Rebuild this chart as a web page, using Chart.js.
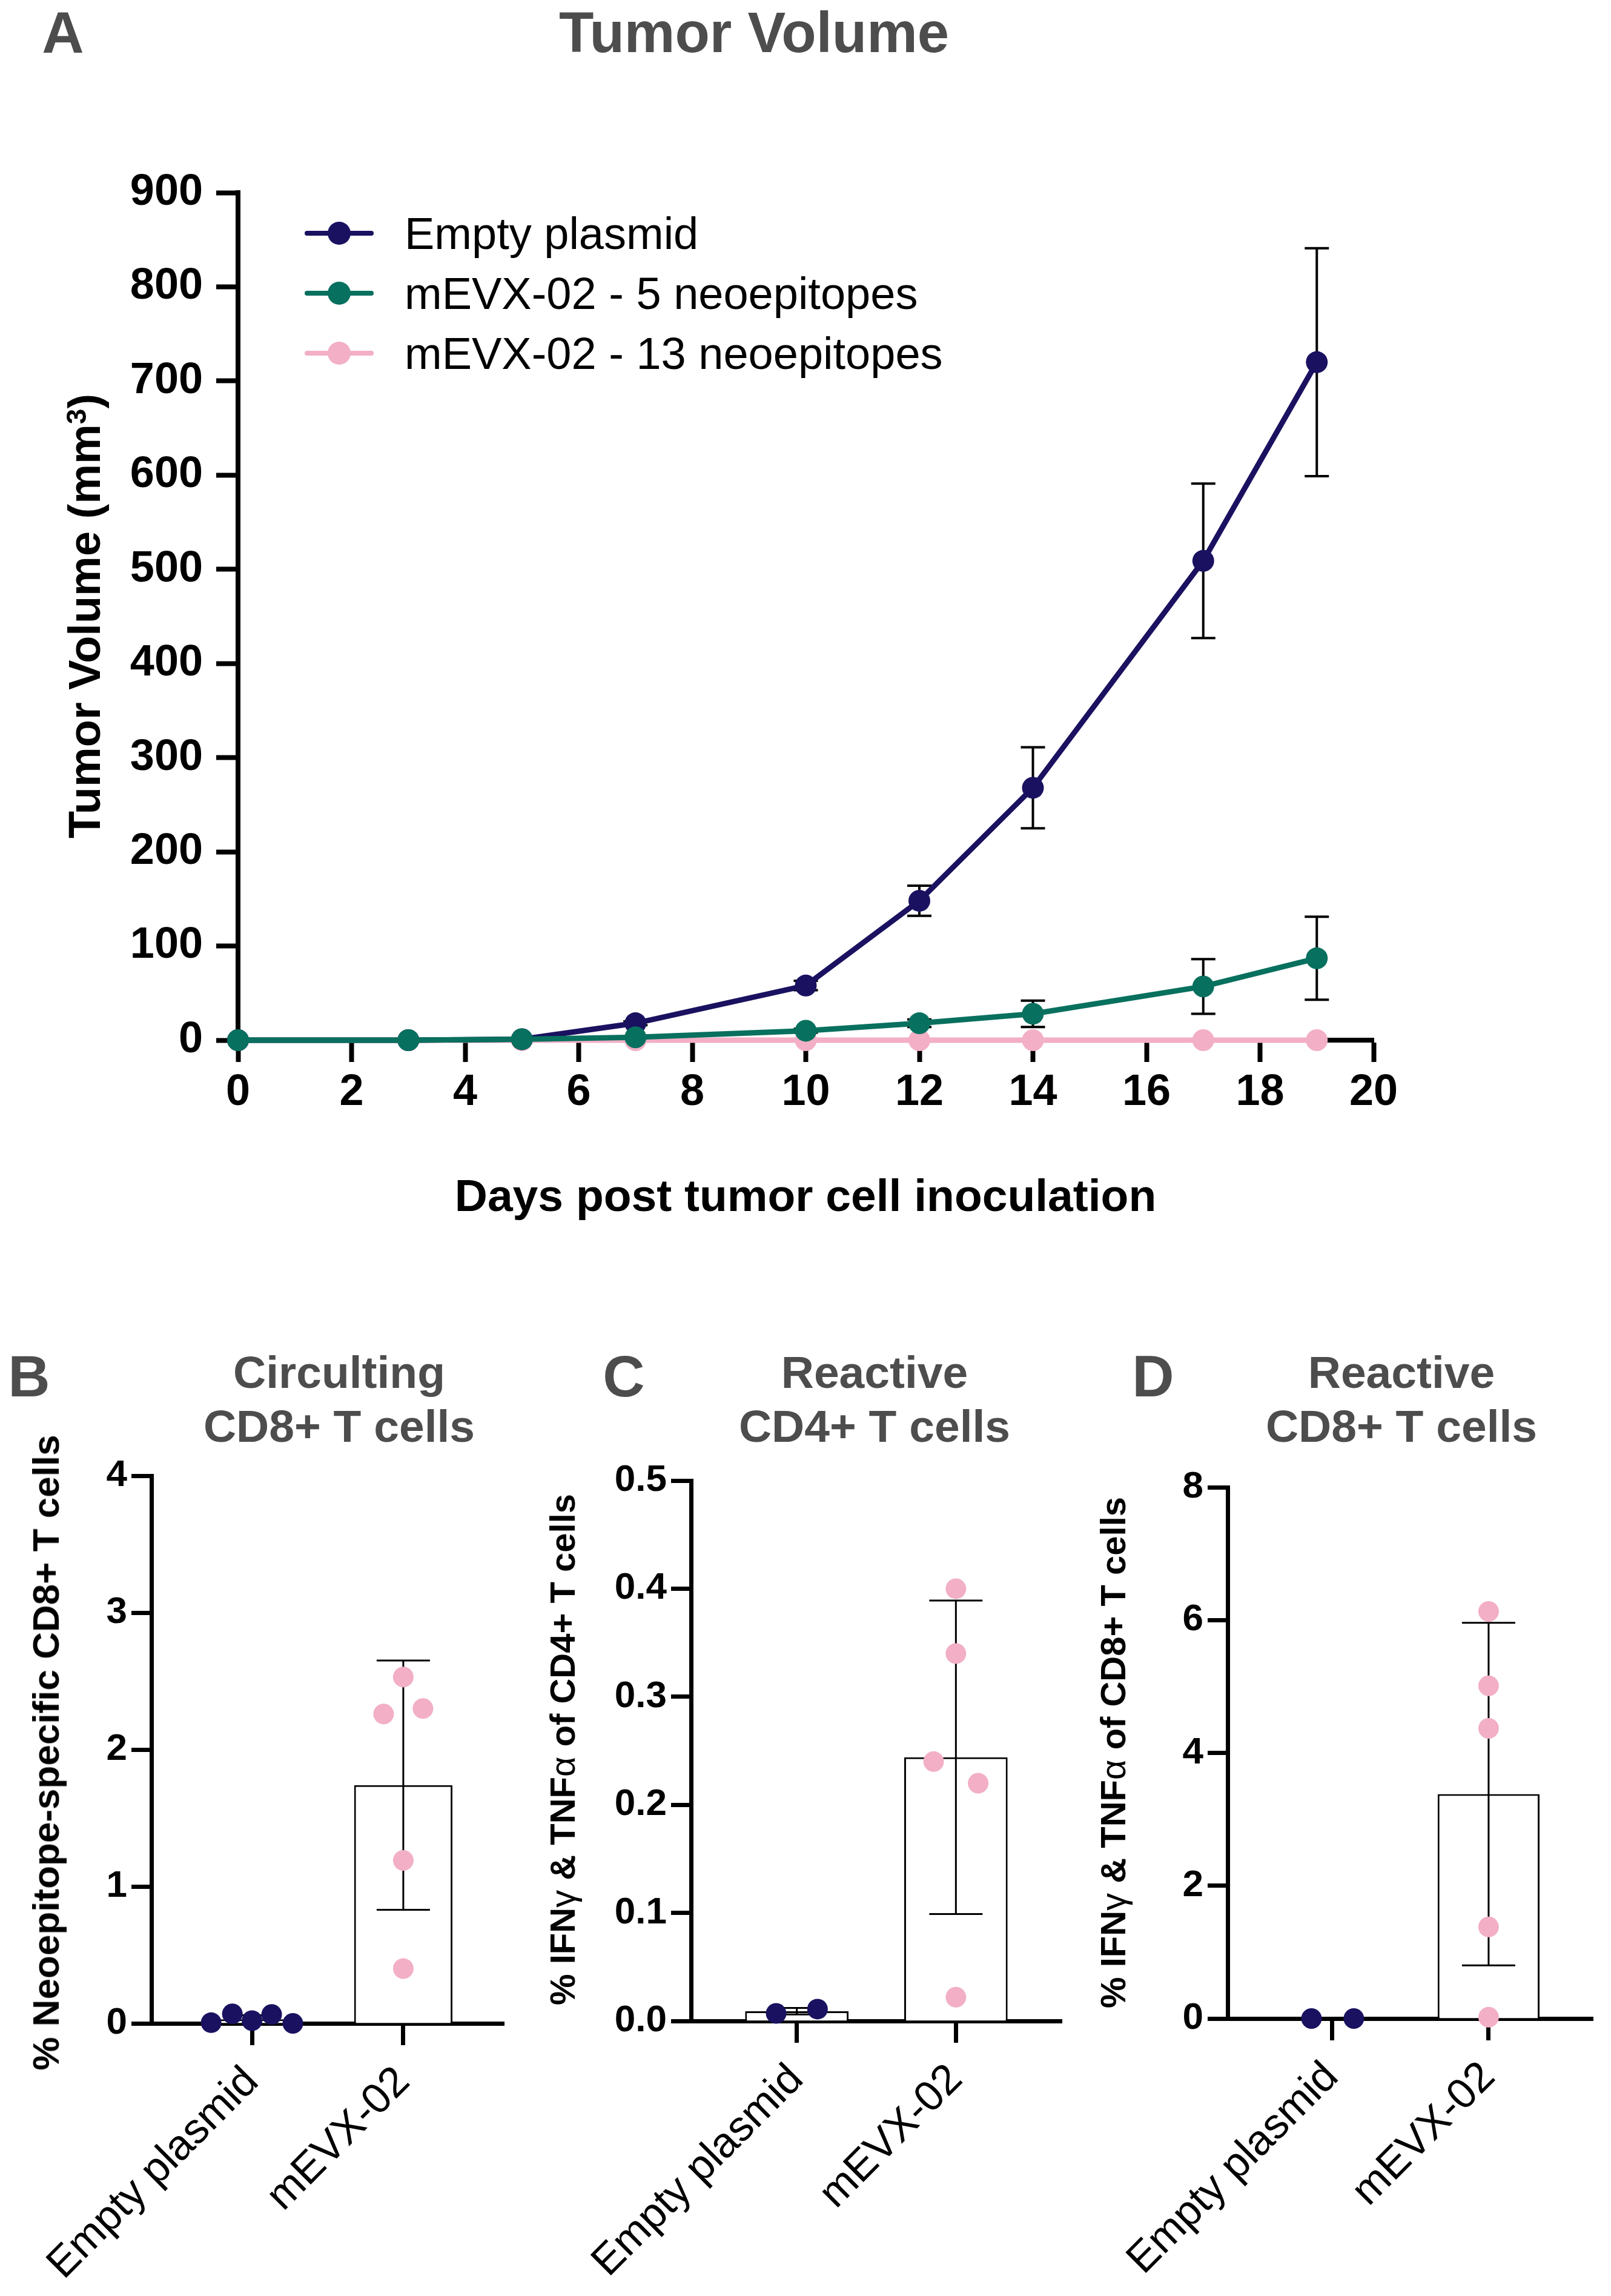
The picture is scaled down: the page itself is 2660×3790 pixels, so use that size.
<!DOCTYPE html>
<html>
<head>
<meta charset="utf-8">
<title>Tumor Volume</title>
<script src="https://cdn.jsdelivr.net/npm/chart.js@4.4.1/dist/chart.umd.min.js"></script>
<style>
  body { margin: 0; background: #fff; }
  #page { position: relative; width: 2660px; height: 3790px; background: #fff; overflow: hidden;
          font-family: 'Liberation Sans', Arial, Helvetica, sans-serif; }
  #page canvas { position: absolute; }
  .txt { position: absolute; white-space: nowrap; line-height: 1; font-weight: bold; transform: translateX(-50%); }
  .letter { font-size: 96px; color: #4d4d4d; }
  .title { font-size: 75px; color: #4d4d4d; line-height: 89px; text-align: center; }
  .ytitle { position: absolute; white-space: nowrap; line-height: 1; font-weight: bold; color: #000;
            transform: translate(-50%, -50%) rotate(-90deg); }
  .greek { font-weight: normal; }
</style>
</head>
<body>
<div id="page">
  <canvas id="chartA" width="2400" height="1850" style="left:0;top:250px"></canvas>
  <canvas id="chartB" width="880" height="1410" style="left:0;top:2380px"></canvas>
  <canvas id="chartC" width="900" height="1410" style="left:880px;top:2380px"></canvas>
  <canvas id="chartD" width="880" height="1410" style="left:1780px;top:2380px"></canvas>

  <div class="txt letter" style="left:104px;top:6px">A</div>
  <div class="txt letter" style="left:1245px;top:7px;font-size:94px">Tumor Volume</div>
  <div class="txt" style="left:1330px;top:1936px;font-size:75px;color:#000">Days post tumor cell inoculation</div>
  <div class="ytitle" style="left:140px;top:1017px;font-size:74px">Tumor Volume (mm<sup style="font-size:0.62em;vertical-align:0.5em;line-height:0">3</sup>)</div>

  <div class="txt letter" style="left:48px;top:2224px">B</div>
  <div class="txt title" style="left:560px;top:2221px">Circulting<br>CD8+ T cells</div>
  <div class="ytitle" style="left:76px;top:2893px;font-size:62px">% Neoepitope-specific CD8+ T cells</div>

  <div class="txt letter" style="left:1030px;top:2224px">C</div>
  <div class="txt title" style="left:1444px;top:2221px">Reactive<br>CD4+ T cells</div>
  <div class="ytitle" style="left:929px;top:2888px;font-size:58px">% IFN<span class="greek">γ</span> &amp; TNF<span class="greek">α</span> of CD4+ T cells</div>

  <div class="txt letter" style="left:1904px;top:2224px">D</div>
  <div class="txt title" style="left:2314px;top:2221px">Reactive<br>CD8+ T cells</div>
  <div class="ytitle" style="left:1838px;top:2893px;font-size:58px">% IFN<span class="greek">γ</span> &amp; TNF<span class="greek">α</span> of CD8+ T cells</div>
</div>

<script>
const FONT = "'Liberation Sans', Arial, Helvetica, sans-serif";
const NAVY = '#1a1160';
const GREEN = '#08705e';
const PINK = '#f2afc6';

// --- Panel A: tumor volume (mean ± SEM) ---
const days = [0, 3, 5, 7, 10, 12, 14, 17, 19];
const seriesNames = ['Empty plasmid', 'mEVX-02 - 5 neoepitopes', 'mEVX-02 - 13 neoepitopes'];
const emptyVolume = [0, 0, 1, 18, 58, 148, 268, 509, 720];
const emptyVolumeErr = [0, 0, 0, 2, 5, 16, 43, 82, 121];
const neo5Volume = [0, 0, 1, 3, 10, 18, 28, 57, 87];
const neo5VolumeErr = [0, 0, 0, 1, 2, 4, 14, 29, 44];
const neo13Volume = [0, 0, 0, 0, 0, 0, 0, 0, 0];
const volumeMax = 900;
const volumeStep = 100;
const dayMax = 20;
const dayStep = 2;

// --- Panels B-D: groups, individual mice, mean ± SD ---
const groups = ['Empty plasmid', 'mEVX-02'];

const circEmpty = [0.005, 0.07, 0.02, 0.065, 0.0];
const circEmptyJitter = [-0.27, -0.13, 0, 0.13, 0.27];
const circMevx = [2.53, 2.26, 2.30, 1.19, 0.40];
const circMevxJitter = [0, -0.13, 0.13, 0, 0];
const circMean = [0.03, 1.74];
const circSd = [0.03, 0.91];

const cd4Empty = [0.007, 0.011];
const cd4EmptyJitter = [-0.13, 0.13];
const cd4Mevx = [0.40, 0.34, 0.24, 0.22, 0.022];
const cd4MevxJitter = [0, 0, -0.14, 0.14, 0];
const cd4Mean = [0.009, 0.244];
const cd4Sd = [0.003, 0.145];

const cd8Empty = [0, 0];
const cd8EmptyJitter = [-0.13, 0.14];
const cd8Mevx = [6.13, 5.01, 4.37, 1.38, 0.02];
const cd8MevxJitter = [0, 0, 0, 0, 0];
const cd8Mean = [0, 3.38];
const cd8Sd = [0, 2.58];

Chart.defaults.font.family = FONT;
Chart.defaults.color = '#000';

// error bars, drawn either under a dataset's points or over its bars
function drawErrors(chart, meta, o) {
  const ds = chart.data.datasets[meta.index];
  if (!ds.errors) return;
  const ctx = chart.ctx, y = chart.scales.y;
  ctx.save();
  ctx.strokeStyle = '#000';
  ctx.lineWidth = o.width;
  meta.data.forEach((el, i) => {
    const err = ds.errors[i];
    if (!err) return;
    const v = ds.data[i].y;
    const top = y.getPixelForValue(v + err);
    const bot = y.getPixelForValue(Math.max(v - err, 0));
    ctx.beginPath();
    ctx.moveTo(el.x, top); ctx.lineTo(el.x, bot);
    ctx.moveTo(el.x - o.cap / 2, top); ctx.lineTo(el.x + o.cap / 2, top);
    if (v - err > 0) { ctx.moveTo(el.x - o.cap / 2, bot); ctx.lineTo(el.x + o.cap / 2, bot); }
    ctx.stroke();
  });
  ctx.restore();
}
const errorBars = {
  id: 'errorBars',
  beforeDatasetDraw(chart, args, o) { if (!o.after) drawErrors(chart, args.meta, o); },
  afterDatasetDraw(chart, args, o) { if (o.after) drawErrors(chart, args.meta, o); }
};

const insideLegend = {
  id: 'insideLegend',
  afterDraw(chart, args, o) {
    const { ctx, chartArea } = chart;
    ctx.save();
    ctx.font = `${o.fontSize}px ${FONT}`;
    ctx.textAlign = 'left';
    ctx.textBaseline = 'alphabetic';
    chart.data.datasets.forEach((ds, i) => {
      const cy = chartArea.top + o.top + i * o.rowGap;
      const x0 = chartArea.left + o.left;
      ctx.strokeStyle = ds.borderColor;
      ctx.lineWidth = o.lineWidth;
      ctx.lineCap = 'round';
      ctx.beginPath(); ctx.moveTo(x0, cy); ctx.lineTo(x0 + o.lineLen, cy); ctx.stroke();
      ctx.fillStyle = ds.borderColor;
      ctx.beginPath(); ctx.arc(x0 + o.lineLen / 2, cy, o.radius, 0, Math.PI * 2); ctx.fill();
      ctx.fillStyle = '#000';
      ctx.fillText(ds.label, x0 + o.textLeft, cy + o.fontSize * 0.358);
    });
    ctx.restore();
  }
};

function lineSeries(label, values, errors, color, order) {
  return {
    label,
    data: days.map((d, i) => ({ x: d, y: values[i] })),
    errors,
    borderColor: color,
    backgroundColor: color,
    pointBackgroundColor: color,
    pointBorderWidth: 0,
    pointRadius: 18,
    borderWidth: 9,
    tension: 0,
    clip: false,
    order
  };
}

new Chart(document.getElementById('chartA'), {
  type: 'line',
  data: {
    datasets: [
      lineSeries(seriesNames[0], emptyVolume, emptyVolumeErr, NAVY, 1),
      lineSeries(seriesNames[1], neo5Volume, neo5VolumeErr, GREEN, 0),
      lineSeries(seriesNames[2], neo13Volume, null, PINK, 2)
    ]
  },
  options: {
    responsive: false,
    animation: false,
    events: [],
    layout: { padding: { top: 68, right: 132, left: 0, bottom: 0 } },
    scales: {
      x: {
        type: 'linear', min: 0, max: dayMax,
        afterFit: s => { s.height = 383; },
        grid: { drawOnChartArea: false, tickLength: 36, tickWidth: 8, tickColor: '#000' },
        border: { color: '#000', width: 8 },
        ticks: { stepSize: dayStep, padding: 8, font: { size: 72, weight: 'bold' } }
      },
      y: {
        min: 0, max: volumeMax,
        afterFit: s => { s.width = 393; },
        grid: { drawOnChartArea: false, tickLength: 36, tickWidth: 8, tickColor: '#000' },
        border: { color: '#000', width: 8 },
        ticks: { stepSize: volumeStep, padding: 22, font: { size: 72, weight: 'bold' } }
      }
    },
    plugins: {
      legend: { display: false },
      tooltip: { enabled: false },
      errorBars: { width: 4, cap: 40, after: false },
      insideLegend: { top: 67, left: 114, lineLen: 106, rowGap: 99, radius: 19, lineWidth: 8, textLeft: 161, fontSize: 74 }
    }
  },
  plugins: [errorBars, insideLegend]
});

function dotBarPanel(id, c) {
  const dots = (values, jitter, base) => values.map((v, i) => ({ x: base + jitter[i], y: v }));
  return new Chart(document.getElementById(id), {
    type: 'bar',
    data: {
      datasets: [
        {
          type: 'bar',
          data: c.mean.map((v, i) => ({ x: i, y: v })),
          errors: c.sd,
          backgroundColor: '#fff',
          borderColor: '#000',
          borderWidth: 3,
          barPercentage: 0.65,
          categoryPercentage: 1,
          order: 3
        },
        { type: 'scatter', data: dots(c.empty, c.emptyJitter, 0), backgroundColor: NAVY, pointRadius: 17, pointBorderWidth: 0, clip: false, order: 1 },
        { type: 'scatter', data: dots(c.mevx, c.mevxJitter, 1), backgroundColor: PINK, pointRadius: 17, pointBorderWidth: 0, clip: false, order: 1 }
      ]
    },
    options: {
      responsive: false,
      animation: false,
      events: [],
      layout: { padding: { top: c.padTop, right: c.padRight, left: 0, bottom: 0 } },
      scales: {
        x: {
          type: 'linear', min: -0.665, max: 1.665, offset: false,
          afterBuildTicks: s => { s.ticks = groups.map((g, i) => ({ value: i })); },
          afterFit: s => { s.height = c.xHeight; },
          grid: { offset: false, drawOnChartArea: false, tickLength: 36, tickWidth: 7, tickColor: '#000' },
          border: { color: '#000', width: 7 },
          ticks: { autoSkip: false, minRotation: 45, maxRotation: 45, padding: 20,
                   font: { size: 70 }, callback: v => groups[v] }
        },
        y: {
          min: 0, max: c.max,
          afterFit: s => { s.width = c.yWidth; },
          grid: { drawOnChartArea: false, tickLength: 33, tickWidth: 7, tickColor: '#000' },
          border: { color: '#000', width: 7 },
          ticks: { stepSize: c.step, padding: 7, font: { size: 62, weight: 'bold' },
                   callback: v => c.decimals ? v.toFixed(c.decimals) : String(v) }
        }
      },
      plugins: {
        legend: { display: false },
        tooltip: { enabled: false },
        errorBars: { width: 3, cap: 88, after: true }
      }
    },
    plugins: [errorBars]
  });
}

dotBarPanel('chartB', {
  empty: circEmpty, emptyJitter: circEmptyJitter, mevx: circMevx, mevxJitter: circMevxJitter,
  mean: circMean, sd: circSd, max: 4, step: 1, decimals: 0,
  padTop: 56, padRight: 48, yWidth: 250, xHeight: 450
});
dotBarPanel('chartC', {
  empty: cd4Empty, emptyJitter: cd4EmptyJitter, mevx: cd4Mevx, mevxJitter: cd4MevxJitter,
  mean: cd4Mean, sd: cd4Sd, max: 0.5, step: 0.1, decimals: 1,
  padTop: 64, padRight: 27, yWidth: 261, xHeight: 454
});
dotBarPanel('chartD', {
  empty: cd8Empty, emptyJitter: cd8EmptyJitter, mevx: cd8Mevx, mevxJitter: cd8MevxJitter,
  mean: cd8Mean, sd: cd8Sd, max: 8, step: 2, decimals: 0,
  padTop: 75, padRight: 30, yWidth: 247, xHeight: 458
});
</script>
</body>
</html>
